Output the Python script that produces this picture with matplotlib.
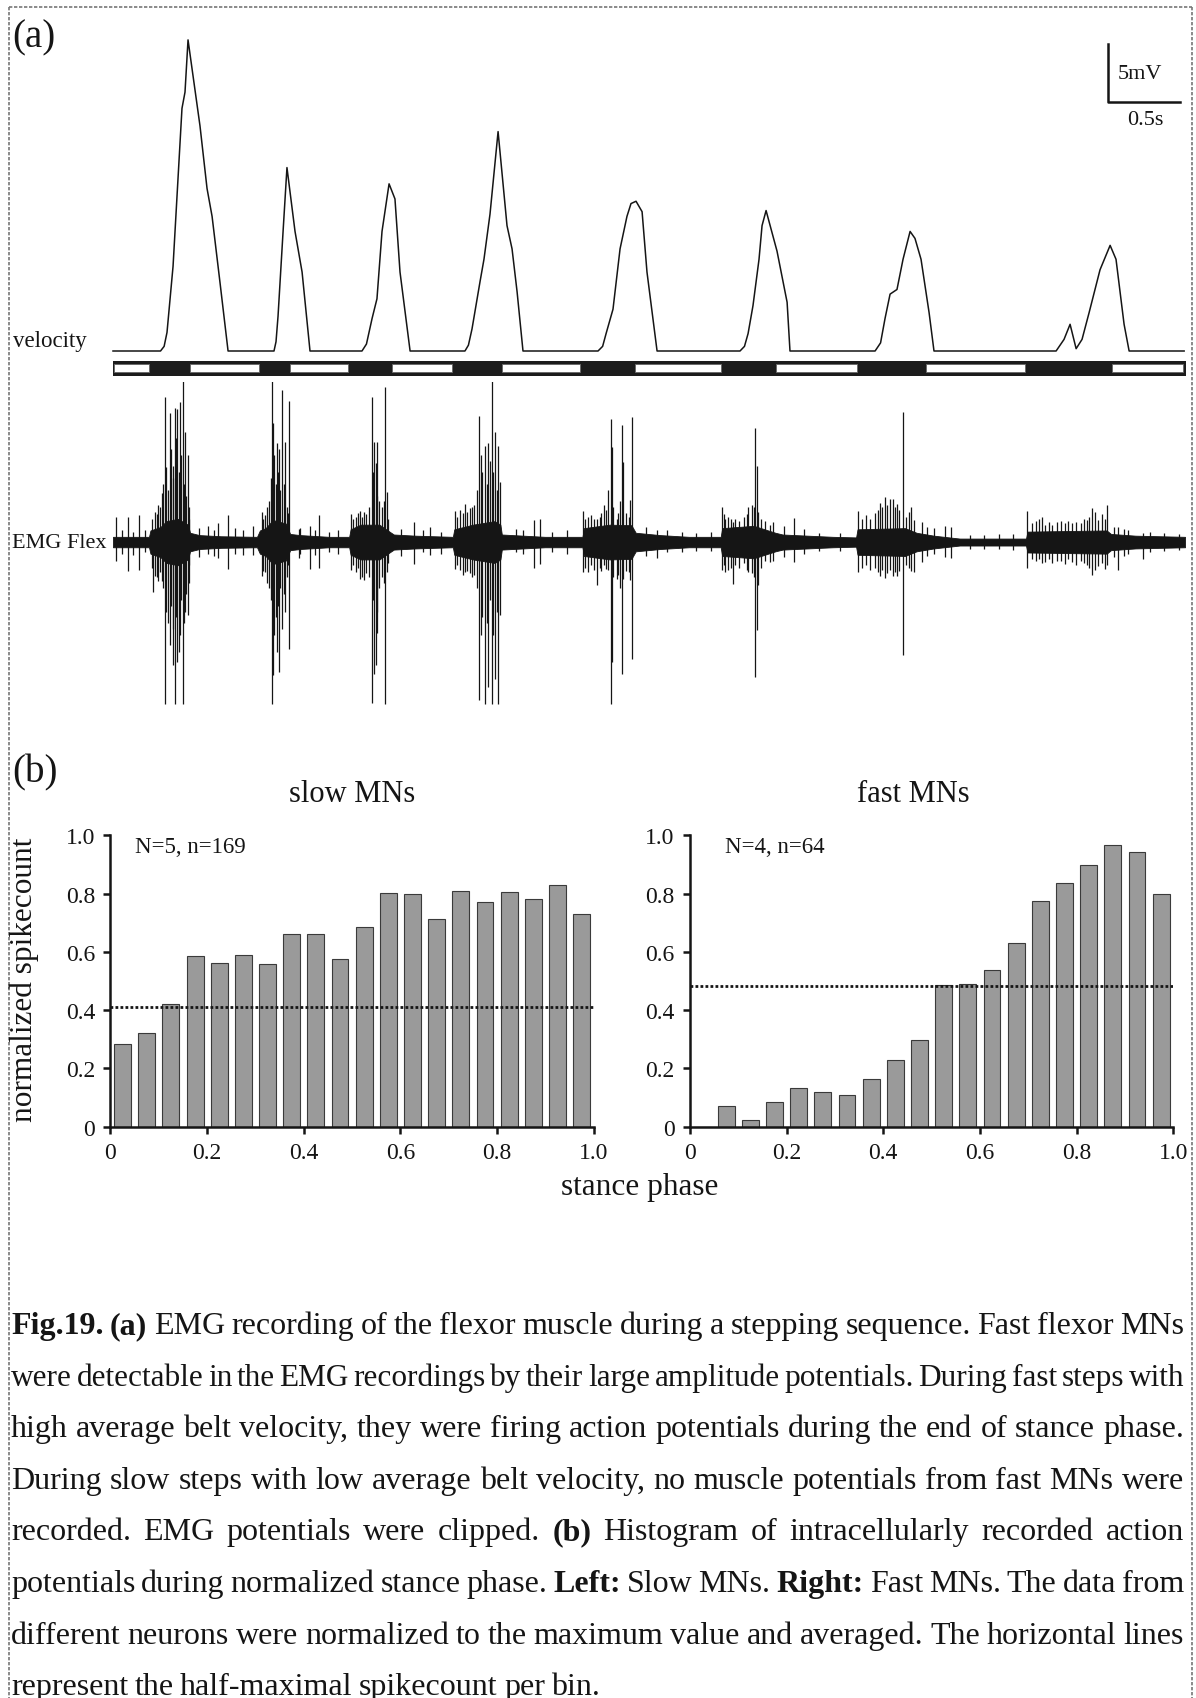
import matplotlib.pyplot as plt
from matplotlib.lines import Line2D
import numpy as np

plt.rcParams['font.family'] = ['Liberation Serif', 'DejaVu Serif']

# ---- (a) velocity trace, key points (s, mV) ----
vel_t = [0.0, 0.33, 0.355, 0.375, 0.417, 0.479, 0.5, 0.521, 0.604, 0.653, 0.688, 0.743, 0.799,
         1.118, 1.132, 1.146, 1.181, 1.208, 1.264, 1.313, 1.368,
         1.729, 1.76, 1.799, 1.833, 1.868, 1.917, 1.958, 1.993, 2.063,
         2.444, 2.468, 2.493, 2.549, 2.576, 2.618, 2.674, 2.736, 2.771, 2.806, 2.847,
         3.368, 3.40, 3.424, 3.472, 3.521, 3.569, 3.597, 3.632, 3.674, 3.708, 3.778,
         4.354, 4.385, 4.41, 4.444, 4.486, 4.507, 4.535, 4.611, 4.681, 4.701,
         5.292, 5.33, 5.361, 5.396, 5.444, 5.486, 5.535, 5.569, 5.611, 5.667, 5.701,
         6.549, 6.604, 6.646, 6.688, 6.729, 6.778, 6.854, 6.924, 6.965, 7.021, 7.056,
         7.438]
vel_v = [0.0, 0.0, 0.4, 1.6, 7.3, 20.9, 22.3, 26.8, 19.4, 14.0, 11.6, 5.9, 0.0,
         0.0, 0.8, 3.0, 10.3, 15.8, 10.3, 6.8, 0.0,
         0.0, 0.6, 2.8, 4.5, 10.3, 14.4, 13.1, 6.8, 0.0,
         0.0, 0.5, 1.9, 6.0, 7.9, 11.8, 18.9, 10.8, 8.8, 5.1, 0.0,
         0.0, 0.4, 1.5, 3.6, 8.8, 11.6, 12.7, 12.9, 12.0, 6.8, 0.0,
         0.0, 0.4, 1.5, 3.9, 7.9, 10.8, 12.1, 8.6, 4.2, 0.0,
         0.0, 0.7, 2.8, 4.9, 5.3, 7.9, 10.3, 9.7, 7.9, 3.3, 0.0,
         0.0, 1.0, 2.3, 0.2, 1.0, 3.3, 7.0, 9.1, 7.9, 2.3, 0.0,
         0.0]

# swing (white) segments of the step bar, s
swing_start = [0.01, 0.535, 1.229, 1.938, 2.701, 3.625, 4.604, 5.646, 6.938]
swing_end = [0.25, 1.014, 1.632, 2.354, 3.243, 4.222, 5.167, 6.333, 7.431]

# EMG background activity envelope (s, mV)
emg_env_t = [0.0, 0.25, 0.26, 0.33, 0.37, 0.45, 0.52, 0.535, 0.6, 0.75, 1.0,
             1.02, 1.06, 1.11, 1.2, 1.23, 1.3, 1.5, 1.64, 1.65, 1.72, 1.85, 1.92, 1.95,
             2.1, 2.36, 2.37, 2.5, 2.65, 2.69, 2.70, 3.0, 3.26, 3.27, 3.45, 3.6, 3.63,
             3.8, 4.0, 4.22, 4.23, 4.45, 4.6, 4.65, 5.0, 5.16, 5.17, 5.5, 5.58, 5.7,
             5.88, 6.34, 6.35, 6.9, 6.93, 7.1, 7.444]
emg_env_a = [0.45, 0.45, 1.0, 1.3, 1.8, 2.0, 1.5, 0.8, 0.6, 0.5, 0.45,
             1.0, 1.2, 1.9, 1.6, 0.7, 0.6, 0.45, 0.45, 1.1, 1.5, 1.5, 0.9, 0.65,
             0.55, 0.45, 1.1, 1.5, 1.8, 1.5, 0.65, 0.45, 0.45, 1.2, 1.5, 1.45, 0.8,
             0.6, 0.45, 0.45, 1.2, 1.4, 0.8, 0.65, 0.45, 0.4, 1.1, 1.2, 0.8, 0.55,
             0.3, 0.3, 0.9, 1.0, 0.7, 0.55, 0.45]

# large (clipped) EMG potentials: time s, top mV, bottom mV
big_t = [0.021, 0.102, 0.181,
         0.280, 0.315, 0.338, 0.361, 0.396, 0.414, 0.431, 0.447, 0.465, 0.484, 0.5, 0.519, 0.530,
         0.731, 0.796, 0.975,
         1.037, 1.056, 1.106, 1.113, 1.137, 1.153, 1.174, 1.194, 1.220,
         1.294, 1.368, 1.431,
         1.650, 1.715, 1.745, 1.796, 1.813, 1.824, 1.836, 1.889, 1.900,
         2.093, 2.201,
         2.375, 2.444, 2.479, 2.542, 2.553, 2.583, 2.606, 2.630, 2.653, 2.676, 2.688,
         2.926, 2.965,
         3.266, 3.301, 3.359, 3.410, 3.435, 3.456, 3.465, 3.498, 3.532, 3.544, 3.590, 3.602,
         3.775,
         4.227, 4.250, 4.303, 4.412, 4.435, 4.461, 4.472, 4.481, 4.586,
         4.731,
         5.176, 5.326, 5.361, 5.394, 5.414, 5.442, 5.488, 5.542, 5.563,
         5.616, 5.778, 5.817,
         6.350, 6.449, 6.553, 6.657, 6.762, 6.796, 6.819, 6.905, 6.981,
         7.155]
big_hi = [2.2, 2.2, 2.3,
          1.0, 3.2, 4.2, 12.5, 11.1, 6.6, 11.6, 11.5, 12.1, 13.9, 9.5, 7.5, 2.0,
          1.6, 2.3, 1.4,
          2.6, 2.3, 13.9, 10.3, 8.5, 8.0, 13.1, 8.6, 12.2,
          1.1, 1.4, 2.3,
          2.4, 2.7, 2.6, 12.5, 8.6, 6.8, 8.6, 13.4, 4.3,
          1.7, 1.3,
          2.7, 3.3, 2.9, 10.9, 7.5, 8.3, 8.5, 13.9, 9.5, 8.3, 5.2,
          1.9, 2.0,
          2.7, 2.2, 2.0, 3.2, 4.5, 10.6, 8.2, 2.0, 10.1, 6.9, 3.6, 10.8,
          1.0,
          3.0, 2.0, 1.7, 3.0, 3.2, 9.8, 6.6, 2.6, 1.7,
          2.1,
          2.7, 3.4, 3.9, 3.7, 3.7, 3.3, 11.2, 3.0, 1.9,
          1.7, 1.4, 1.3,
          2.7, 2.2, 1.7, 1.6, 1.9, 2.9, 2.6, 3.2, 1.3,
          0.8]
big_lo = [-1.6, -2.5, -2.4,
          -4.3, -3.4, -3.4, -14.0, -8.9, -10.6, -14.0, -10.3, -8.0, -14.0, -6.0, -6.3, -2.0,
          -1.4, -2.3, -1.1,
          -2.9, -2.6, -14.0, -11.5, -9.5, -11.2, -7.5, -6.0, -9.2,
          -1.4, -2.3, -2.2,
          -2.4, -3.2, -3.3, -13.9, -11.4, -10.6, -7.8, -14.0, -2.6,
          -1.9, -1.1,
          -2.3, -2.6, -2.7, -13.6, -8.0, -14.0, -12.5, -14.0, -11.8, -14.0, -6.3,
          -2.2, -1.9,
          -2.6, -2.6, -3.7, -2.0, -2.4, -14.0, -10.3, -3.2, -11.4, -3.2, -3.3, -10.1,
          -1.4,
          -2.4, -2.6, -3.6, -2.6, -2.7, -11.6, -7.6, -3.7, -1.6,
          -1.7,
          -2.6, -2.9, -3.1, -2.4, -2.9, -2.9, -9.7, -2.5, -2.6,
          -1.7, -1.3, -1.4,
          -2.2, -1.8, -1.6, -1.7, -2.0, -2.8, -2.4, -2.0, -2.4,
          -1.5]

# smaller potentials inside and between bursts: time s, top mV, bottom mV
small_t = [0.06, 0.14, 0.22,
           0.27, 0.29, 0.305, 0.325, 0.35, 0.37, 0.38, 0.405, 0.42, 0.44, 0.455, 0.475, 0.49,
           0.51, 0.525,
           0.6, 0.66, 0.7, 0.85, 0.9,
           1.045, 1.07, 1.085, 1.095, 1.12, 1.13, 1.145, 1.16, 1.185, 1.205, 1.215,
           1.3, 1.4, 1.5, 1.56,
           1.665, 1.685, 1.70, 1.73, 1.76, 1.78, 1.805, 1.83, 1.85, 1.87, 1.88, 1.91,
           2.0, 2.15, 2.28,
           2.39, 2.41, 2.43, 2.46, 2.495, 2.51, 2.525, 2.565, 2.595, 2.62, 2.64, 2.665,
           2.8, 2.85, 3.05, 3.15,
           3.28, 3.32, 3.34, 3.38, 3.39, 3.42, 3.475, 3.51, 3.52, 3.565, 3.58,
           3.7, 3.85, 3.95, 4.05, 4.15,
           4.24, 4.27, 4.29, 4.32, 4.35, 4.38, 4.40, 4.45, 4.50, 4.53, 4.56,
           4.66, 4.8, 4.9, 5.05,
           5.20, 5.23, 5.26, 5.29, 5.31, 5.34, 5.375, 5.43, 5.46, 5.51, 5.53,
           5.65, 5.7, 5.95, 6.05, 6.15, 6.25,
           6.38, 6.41, 6.43, 6.47, 6.50, 6.52, 6.58, 6.61, 6.63, 6.69, 6.72, 6.74, 6.78, 6.84,
           6.87, 6.89, 6.95, 7.02,
           7.05, 7.2, 7.3, 7.4]
small_hi = [1.0, 0.9, 1.0,
            2.0, 2.6, 2.4, 3.0, 5.0, 6.5, 4.5, 8.0, 5.5, 9.0, 6.0, 7.5, 5.0,
            4.0, 3.0,
            1.2, 1.4, 1.0, 1.2, 1.0,
            2.0, 3.0, 3.5, 5.5, 7.5, 5.0, 6.0, 4.5, 5.0, 3.0, 2.5,
            1.2, 1.0, 0.9, 1.0,
            2.0, 2.2, 2.5, 2.2, 2.4, 3.0, 6.0, 4.0, 3.5, 3.0, 3.5, 2.0,
            1.1, 1.0, 0.9,
            2.2, 2.8, 2.5, 2.6, 3.0, 3.2, 4.5, 6.0, 5.0, 7.0, 6.0, 4.5,
            1.1, 1.0, 0.9, 1.0,
            2.0, 2.3, 2.0, 2.2, 2.5, 2.8, 3.0, 2.5, 3.5, 2.5, 2.2,
            1.3, 1.0, 0.9, 0.8, 0.9,
            2.4, 2.2, 2.0, 2.0, 1.8, 2.2, 2.4, 3.0, 2.0, 1.8, 1.5,
            1.4, 1.1, 0.8, 0.8,
            2.0, 2.3, 2.0, 2.5, 2.8, 3.0, 3.2, 3.0, 2.8, 2.2, 2.6,
            1.3, 1.2, 0.6, 0.6, 0.7, 0.7,
            1.6, 1.8, 2.0, 1.5, 1.7, 1.5, 1.8, 1.6, 1.8, 1.7, 1.6, 2.0, 2.2, 1.9,
            2.4, 2.0, 1.3, 1.1,
            1.0, 0.9, 0.8, 0.7]
small_lo = [-1.0, -1.1, -0.9,
            -2.2, -2.9, -3.0, -2.6, -4.0, -6.0, -7.0, -5.5, -7.5, -6.5, -9.5, -5.0, -7.0,
            -4.5, -3.5,
            -1.3, -1.0, -1.2, -1.0, -1.1,
            -2.5, -3.5, -4.0, -5.0, -8.0, -6.5, -5.5, -4.0, -4.5, -3.0, -2.0,
            -1.0, -1.1, -0.9, -1.0,
            -2.0, -2.6, -2.2, -3.0, -2.7, -3.0, -5.0, -6.0, -4.0, -3.0, -3.5, -1.8,
            -1.2, -0.9, -1.0,
            -2.0, -2.4, -2.8, -2.5, -3.0, -2.8, -4.0, -6.5, -7.0, -5.0, -8.0, -6.0,
            -0.9, -1.0, -0.9, -1.0,
            -2.2, -2.0, -2.4, -2.2, -2.5, -2.3, -3.0, -2.8, -4.0, -2.5, -2.6,
            -1.2, -0.9, -0.9, -0.8, -0.8,
            -2.0, -2.4, -2.2, -2.0, -2.2, -1.8, -2.4, -3.0, -2.2, -1.6, -1.7,
            -1.3, -1.0, -0.8, -0.8,
            -2.2, -2.0, -2.4, -2.2, -2.6, -2.4, -2.7, -2.6, -2.5, -2.0, -2.2,
            -1.2, -1.0, -0.6, -0.6, -0.6, -0.7,
            -1.5, -1.6, -1.5, -1.7, -1.5, -1.8, -1.6, -1.9, -1.5, -2.0, -1.6, -1.8, -2.2, -2.1,
            -1.8, -2.3, -1.3, -1.2,
            -1.0, -0.9, -0.8, -0.7]

# ---- (b) histograms ----
bin_centers = np.arange(0.025, 1.0, 0.05)
slow_counts = [0.284, 0.322, 0.422, 0.586, 0.561, 0.589, 0.559, 0.661, 0.663, 0.575,
               0.684, 0.801, 0.798, 0.714, 0.808, 0.771, 0.805, 0.782, 0.828, 0.731]
fast_counts = [0.0, 0.070, 0.022, 0.084, 0.133, 0.118, 0.110, 0.163, 0.229, 0.298,
               0.486, 0.490, 0.538, 0.632, 0.775, 0.838, 0.897, 0.968, 0.944, 0.798]
slow_half = 0.41
fast_half = 0.483
slow_note = 'N=5, n=169'
fast_note = 'N=4, n=64'
ticks = [0, 0.2, 0.4, 0.6, 0.8, 1.0]
tick_labels = ['0', '0.2', '0.4', '0.6', '0.8', '1.0']

caption = [
    "*Fig.19. *(a) EMG recording of the flexor muscle during a stepping sequence. Fast flexor MNs",
    "were detectable in the EMG recordings by their large amplitude potentials. During fast steps with",
    "high average belt velocity, they were firing action potentials during the end of stance phase.",
    "During slow steps with low average belt velocity, no muscle potentials from fast MNs were",
    "recorded. EMG potentials were clipped. *(b) Histogram of intracellularly recorded action",
    "potentials during normalized stance phase. *Left: Slow MNs. *Right: Fast MNs. The data from",
    "different neurons were normalized to the maximum value and averaged. The horizontal lines",
    "represent the half-maximal spikecount per bin.",
]

W, H = 1196, 1699
fig = plt.figure(figsize=(W / 100, H / 100), dpi=100)


def add_ax(x0, y0, x1, y1):
    return fig.add_axes([x0 / W, 1 - y1 / H, (x1 - x0) / W, (y1 - y0) / H])


def fx(x):
    return x / W


def fy(y):
    return 1 - y / H


ink = '#151515'
t_end = 7.444

# velocity
ax_vel = add_ax(113, 20, 1185, 352)
ax_vel.plot(vel_t, vel_v, color=ink, lw=1.1, clip_on=False)
ax_vel.set_xlim(0, t_end)
ax_vel.set_ylim(0, 28.6)
ax_vel.axis('off')
# scale bar 0.5 s / 5 mV
ax_vel.plot([6.91, 6.91, 7.41], [26.47, 21.47, 21.47], color=ink, lw=1.8, clip_on=False)
ax_vel.text(6.975, 23.9, '5mV', fontsize=16, ha='left', va='center', color=ink)
ax_vel.text(7.17, 19.9, '0.5s', fontsize=16, ha='center', va='center', color=ink)

# step bar
ax_bar = add_ax(113, 362, 1185, 376)
ax_bar.broken_barh([(0, t_end)], (0, 1), color='#1c1c1c')
ax_bar.broken_barh([(s, e - s) for s, e in zip(swing_start, swing_end)], (0.2, 0.6),
                   facecolor='white', edgecolor='#666666', lw=0.6)
ax_bar.set_xlim(0, t_end)
ax_bar.set_ylim(0, 1)
ax_bar.axis('off')

# EMG
ax_emg = add_ax(113, 383, 1185, 706)
ax_emg.fill_between(emg_env_t, [-a for a in emg_env_a], emg_env_a, color=ink, lw=0.6)
ax_emg.vlines(small_t, small_lo, small_hi, color=ink, lw=0.9)
ax_emg.vlines(big_t, big_lo, big_hi, color=ink, lw=0.9)
ax_emg.set_xlim(0, t_end)
ax_emg.set_ylim(-14.05, 13.8)
ax_emg.axis('off')

fig.text(fx(13), fy(342), 'velocity', fontsize=16.5, ha='left', va='center', color=ink)
fig.text(fx(12), fy(543), 'EMG Flex', fontsize=16, ha='left', va='center', color=ink)
fig.text(fx(12), fy(38), '(a)', fontsize=28, ha='left', va='center', color=ink)
fig.text(fx(12), fy(773), '(b)', fontsize=28, ha='left', va='center', color=ink)

# histograms
panels = [
    (110.5, slow_counts, slow_half, slow_note, 0.05, 'slow MNs', 0.5),
    (690, fast_counts, fast_half, fast_note, 0.072, 'fast MNs', 0.462),
]
for x0, counts, half, note, note_x, title, title_x in panels:
    ax = add_ax(x0, 836.3, x0 + 483.2, 1127.7)
    ax.bar(bin_centers, counts, width=0.035, color='#9a9a9a', edgecolor='#3a3a3a', lw=0.8)
    ax.plot([0, 1], [half, half], color=ink, lw=2.0, ls=(0, (1, 0.8)))
    ax.set_xlim(0, 1.0)
    ax.set_ylim(0, 1.0)
    for side in ('top', 'right'):
        ax.spines[side].set_visible(False)
    for side in ('left', 'bottom'):
        ax.spines[side].set_linewidth(1.8)
        ax.spines[side].set_color(ink)
    ax.set_xticks(ticks, tick_labels)
    ax.set_yticks(ticks, tick_labels)
    ax.tick_params(direction='out', length=5, width=1.8, labelsize=17, pad=6, colors=ink)
    ax.text(note_x, 0.963, note, transform=ax.transAxes, fontsize=16.5, va='center', color=ink)
    ax.text(title_x, 1.145, title, transform=ax.transAxes, fontsize=22, ha='center',
            va='center', color=ink)

fig.text(fx(24), fy(980), 'normalized spikecount', fontsize=22.5, rotation=90,
         ha='center', va='center', color=ink)
fig.text(fx(640), fy(1188), 'stance phase', fontsize=22.5, ha='center', va='center', color=ink)

# page frame
frame = dict(color='#777777', lw=1.2, ls=(0, (2, 1)), transform=fig.transFigure)
fig.add_artist(Line2D([fx(9), fx(9)], [fy(8), fy(H)], **frame))
fig.add_artist(Line2D([fx(1192), fx(1192)], [fy(8), fy(H)], **frame))
fig.add_artist(Line2D([fx(9), fx(1192)], [fy(8), fy(8)], **frame))

# justified caption
renderer = fig.canvas.get_renderer()
left, right = 11, 1184
base_size = 23
for i, line in enumerate(caption):
    baseline = 1334 + i * 51.6
    justify = i < len(caption) - 1
    words = line.split(' ')
    size = base_size
    while True:
        texts = []
        for w in words:
            bold = w.startswith('*')
            texts.append(fig.text(0, fy(baseline), w.lstrip('*'), fontsize=size,
                                  fontweight='bold' if bold else 'normal',
                                  ha='left', va='baseline', color=ink))
        widths = [t.get_window_extent(renderer).width for t in texts]
        size_px = size * 100 / 72
        if justify:
            gap = (right - left - sum(widths)) / (len(words) - 1)
        else:
            gap = 0.2 * size_px
        if gap >= 0.12 * size_px or size < 15:
            break
        for t in texts:
            t.remove()
        size -= 0.25
    x = left
    for t, w in zip(texts, widths):
        t.set_x(fx(x))
        x += w + gap

fig.savefig('out.png', dpi=100)
